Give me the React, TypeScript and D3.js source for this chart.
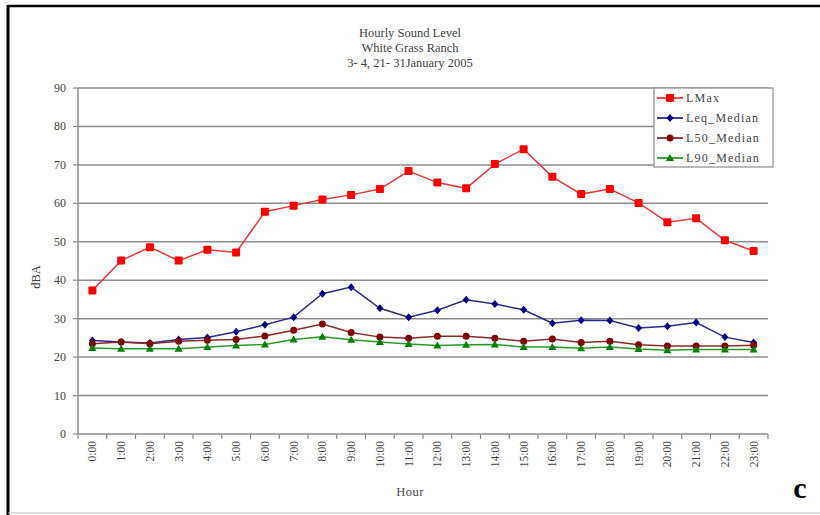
import React from 'react';
import * as d3 from 'd3';

const hours = ['0:00', '1:00', '2:00', '3:00', '4:00', '5:00', '6:00', '7:00', '8:00', '9:00', '10:00', '11:00',
  '12:00', '13:00', '14:00', '15:00', '16:00', '17:00', '18:00', '19:00', '20:00', '21:00', '22:00', '23:00'];

const lMax = [37.3, 45.1, 48.6, 45.1, 47.9, 47.2, 57.8, 59.4, 61.0, 62.2, 63.7, 68.4,
  65.4, 63.9, 70.2, 74.1, 66.9, 62.4, 63.7, 60.1, 55.1, 56.1, 50.4, 47.6];
const leqMedian = [24.3, 23.9, 23.7, 24.6, 25.1, 26.6, 28.4, 30.4, 36.5, 38.2, 32.7, 30.4,
  32.2, 34.9, 33.8, 32.3, 28.8, 29.6, 29.5, 27.6, 28.0, 29.0, 25.2, 23.8];
const l50Median = [23.5, 23.9, 23.5, 24.1, 24.4, 24.6, 25.5, 27.0, 28.6, 26.4, 25.2, 24.9,
  25.4, 25.4, 24.9, 24.1, 24.7, 23.8, 24.1, 23.2, 22.9, 22.9, 22.9, 23.1];
const l90Median = [22.4, 22.2, 22.2, 22.2, 22.6, 23.0, 23.3, 24.6, 25.3, 24.5, 23.9, 23.4,
  23.0, 23.2, 23.3, 22.6, 22.6, 22.3, 22.6, 22.1, 21.8, 22.0, 22.0, 22.0];

const yTicks = [0, 10, 20, 30, 40, 50, 60, 70, 80, 90];
const titleLines = ['Hourly Sound Level', 'White Grass Ranch', '3- 4, 21- 31January 2005'];

type Marker = 'square' | 'diamond' | 'circle' | 'triangle';
const series: { name: string; values: number[]; color: string; line: string; marker: Marker }[] = [
  { name: 'LMax', values: lMax, color: '#ff0000', line: '#e8383a', marker: 'square' },
  { name: 'Leq_Median', values: leqMedian, color: '#000080', line: '#2a2a8a', marker: 'diamond' },
  { name: 'L50_Median', values: l50Median, color: '#800000', line: '#8a2a2a', marker: 'circle' },
  { name: 'L90_Median', values: l90Median, color: '#008000', line: '#2a9a2a', marker: 'triangle' },
];

const FONT = '"Liberation Serif", "DejaVu Serif", serif';
const TXT = '#444';

const left = 78, right = 768, top = 88, bottom = 434;

const MarkerShape = ({ type, x, y, color }: { type: Marker; x: number; y: number; color: string }) => {
  if (type === 'square') return <rect x={x - 4} y={y - 4} width={8} height={8} fill={color} rx={1} />;
  if (type === 'diamond') return <path d={`M${x},${y - 4}L${x + 3.5},${y}L${x},${y + 4}L${x - 3.5},${y}Z`} fill={color} />;
  if (type === 'circle') return <circle cx={x} cy={y} r={3.5} fill={color} />;
  return <path d={`M${x},${y - 4}L${x + 4},${y + 3}L${x - 4},${y + 3}Z`} fill={color} />;
};

export default function App() {
  const x = d3.scaleBand<string>().domain(hours).range([left, right]);
  const y = d3.scaleLinear().domain([0, 90]).range([bottom, top]);
  const cx = (h: string) => (x(h) || 0) + x.bandwidth() / 2;
  const line = d3.line<number>().x((_, i) => cx(hours[i])).y(d => y(d));

  return (
    <svg width={820} height={515} style={{ position: 'absolute', left: 0, top: 0, background: '#fff' }}
      fontFamily={FONT}>
      {/* frame */}
      <line x1={8} y1={6} x2={820} y2={6} stroke="#000" strokeWidth={2.5} />
      <line x1={8} y1={5} x2={8} y2={515} stroke="#000" strokeWidth={3} />
      <line x1={8} y1={513} x2={820} y2={513} stroke="#bbb" strokeWidth={1} />

      {titleLines.map((t, i) => (
        <text key={t} x={410} y={37 + i * 15} textAnchor="middle" fontSize={12.5} fill={TXT}>{t}</text>
      ))}

      {/* grid */}
      {yTicks.map(t => (
        <g key={t}>
          {t > 0 && <line x1={left} x2={right} y1={y(t)} y2={y(t)} stroke="#8c8c8c" strokeWidth={1.5} />}
          <line x1={left - 5} x2={left} y1={y(t)} y2={y(t)} stroke="#8c8c8c" strokeWidth={1.2} />
          <text x={66} y={y(t) + 4} textAnchor="end" fontSize={12} fill={TXT}>{t}</text>
        </g>
      ))}
      <line x1={left} x2={left} y1={top} y2={bottom} stroke="#8c8c8c" strokeWidth={1.5} />
      <line x1={left} x2={right} y1={bottom} y2={bottom} stroke="#8c8c8c" strokeWidth={1.5} />
      {hours.map((h, i) => (
        <line key={'t' + h} x1={left + i * x.bandwidth()} x2={left + i * x.bandwidth()} y1={bottom} y2={bottom + 5}
          stroke="#8c8c8c" strokeWidth={1.2} />
      ))}
      <line x1={right} x2={right} y1={bottom} y2={bottom + 5} stroke="#8c8c8c" strokeWidth={1.2} />

      {hours.map(h => (
        <text key={h} transform={`translate(${cx(h) + 4},441) rotate(-90)`} textAnchor="end" fontSize={11.5} fill={TXT}>{h}</text>
      ))}

      <text x={410} y={496} textAnchor="middle" fontSize={12.5} fill={TXT} letterSpacing={0.5}>Hour</text>
      <text transform="translate(40,277) rotate(-90)" textAnchor="middle" fontSize={12.5} fill={TXT}>dBA</text>

      {/* series */}
      {series.map(s => (
        <g key={s.name}>
          <path d={line(s.values) || ''} fill="none" stroke={s.line} strokeWidth={1.5} />
          {s.values.map((v, i) => (
            <MarkerShape key={i} type={s.marker} x={cx(hours[i])} y={y(v)} color={s.color} />
          ))}
        </g>
      ))}

      {/* legend */}
      <rect x={654} y={88} width={119} height={79} fill="#fff" stroke="#8c8c8c" strokeWidth={1.2} />
      {series.map((s, i) => (
        <g key={'l' + s.name}>
          <line x1={657} x2={683} y1={98 + i * 20} y2={98 + i * 20} stroke={s.line} strokeWidth={1.8} />
          <MarkerShape type={s.marker} x={670} y={98 + i * 20} color={s.color} />
          <text x={686} y={102 + i * 20} fontSize={12} fill={TXT} letterSpacing={1.2}>{s.name}</text>
        </g>
      ))}

      <text x={800} y={498} textAnchor="middle" fontSize={30} fontWeight="bold" fill="#000">c</text>
    </svg>
  );
}
